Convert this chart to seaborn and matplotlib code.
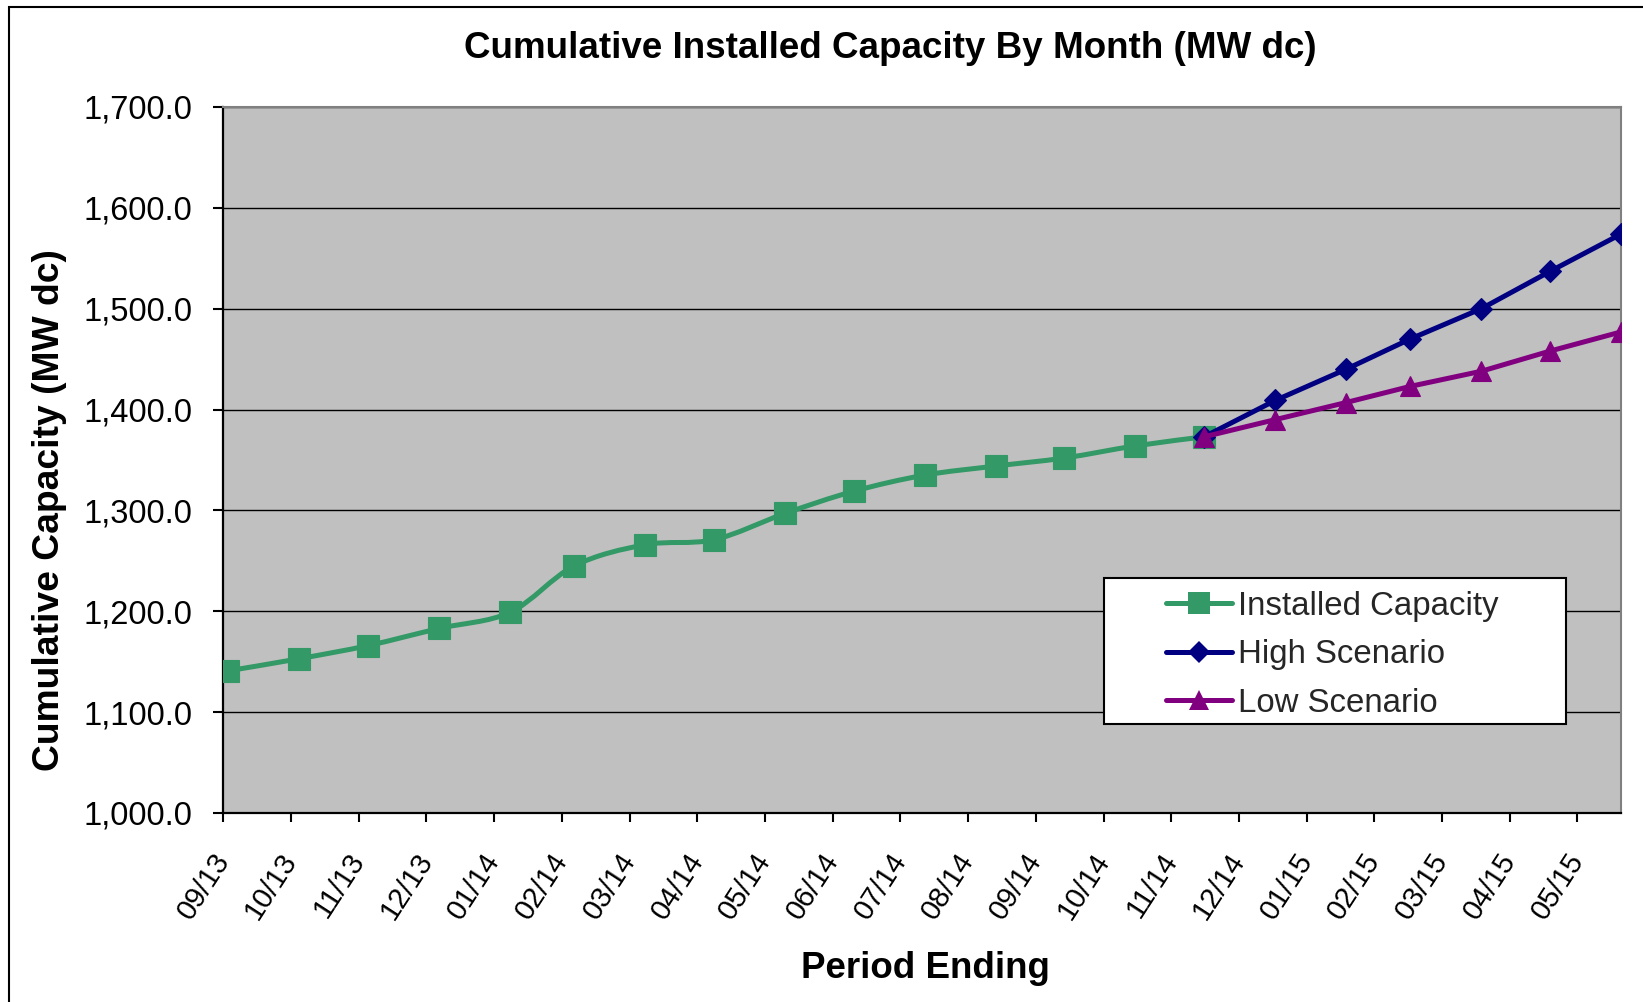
import pandas as pd
import numpy as np
import matplotlib
matplotlib.use('Agg')
from matplotlib import pyplot as plt
import matplotlib.dates as mdates
from matplotlib.path import Path
from matplotlib.patches import PathPatch, Rectangle
from matplotlib.lines import Line2D
from matplotlib.ticker import StrMethodFormatter
import seaborn as sns

sns.set_theme(style='white')
plt.rcParams['font.family'] = ['Liberation Sans', 'DejaVu Sans']

# data (MW dc, cumulative, month end)
installed_months = ['2013-09', '2013-10', '2013-11', '2013-12', '2014-01', '2014-02',
                    '2014-03', '2014-04', '2014-05', '2014-06', '2014-07', '2014-08',
                    '2014-09', '2014-10', '2014-11']
installed = [1141, 1153, 1166, 1183, 1199, 1245, 1266, 1271, 1297, 1319, 1335, 1344,
             1352, 1364, 1373]

scenario_months = ['2014-11', '2014-12', '2015-01', '2015-02', '2015-03', '2015-04', '2015-05']
high = [1373, 1409, 1440, 1470, 1500, 1537, 1574]
low = [1373, 1390, 1407, 1423, 1438, 1458, 1477]

tick_labels = ['09/13', '10/13', '11/13', '12/13', '01/14', '02/14', '03/14', '04/14',
               '05/14', '06/14', '07/14', '08/14', '09/14', '10/14', '11/14', '12/14',
               '01/15', '02/15', '03/15', '04/15', '05/15']

green = '#339966'
navy = '#000080'
purple = '#800080'

# month end dates
inst_dates = pd.to_datetime(installed_months) + pd.offsets.MonthEnd(0)
scen_dates = pd.to_datetime(scenario_months) + pd.offsets.MonthEnd(0)

W, H = 1643, 1002
fig = plt.figure(figsize=(W / 100, H / 100), dpi=100)
ax = fig.add_axes([223.3 / W, 1 - 813 / H, (1621 - 223.3) / W, (813 - 107) / H])
ax.set_facecolor('#C0C0C0')

# smoothed line for installed capacity (excel style bezier)
xs = mdates.date2num(inst_dates)
pts = np.column_stack([xs, installed]).astype(float)
n = len(pts)
verts = [tuple(pts[0])]
codes = [Path.MOVETO]
for i in range(n - 1):
    p0 = pts[max(i - 1, 0)]
    p1 = pts[i]
    p2 = pts[i + 1]
    p3 = pts[min(i + 2, n - 1)]
    c1 = p1 + (p2 - p0) / 6
    c2 = p2 - (p3 - p1) / 6
    verts += [tuple(c1), tuple(c2), tuple(p2)]
    codes += [Path.CURVE4] * 3
ax.add_patch(PathPatch(Path(verts, codes), fill=False, edgecolor=green, lw=3.6,
                       joinstyle='round', capstyle='round', zorder=3))

sns.lineplot(x=inst_dates, y=installed, ax=ax, marker='s', markersize=15.5, linestyle='',
             color=green, markeredgecolor=green, markeredgewidth=0.8, zorder=4)
sns.lineplot(x=scen_dates, y=high, ax=ax, marker='D', markersize=11, lw=3.6,
             color=navy, markeredgecolor=navy, markeredgewidth=0.8, zorder=5)
sns.lineplot(x=scen_dates, y=low, ax=ax, marker='^', markersize=14.5, lw=3.6,
             color=purple, markeredgecolor=purple, markeredgewidth=0.8, zorder=6)

# axes
x_left = pd.Timestamp('2013-09-27 19:00')
x_right = pd.Timestamp('2015-05-31')
ax.set_xlim(x_left, x_right)
ax.set_ylim(1000, 1700)
ax.set_yticks(np.arange(1000, 1701, 100))
ax.yaxis.set_major_formatter(StrMethodFormatter('{x:,.1f}'))

tick_dates = pd.date_range(x_left, '2015-05-12', periods=len(tick_labels))
ax.set_xticks(tick_dates)
ax.set_xticklabels(tick_labels)

ax.tick_params(axis='y', which='major', left=True, length=7, width=1.5, color='black',
               labelsize=23.5, pad=15, labelcolor='black')
ax.tick_params(axis='x', which='major', bottom=True, length=6.5, width=1.5, color='black',
               pad=24, labelcolor='black', labelsize=21, labelrotation=57)
plt.setp(ax.get_xticklabels(), ha='right', va='center', rotation_mode='anchor')

ax.grid(axis='y', color='black', lw=1.0)
ax.grid(axis='x', visible=False)
ax.set_axisbelow(True)

for side in ['left', 'bottom']:
    ax.spines[side].set_color('black')
    ax.spines[side].set_linewidth(1.6)
for side in ['top', 'right']:
    ax.spines[side].set_color('#808080')
    ax.spines[side].set_linewidth(1.5)

ax.set_xlabel('Period Ending', fontsize=26.5, fontweight='bold', color='black')
ax.xaxis.set_label_coords((925 - 223.3) / (1621 - 223.3), (813 - 968) / 706)
ax.xaxis.label.set_va('center')
ax.set_ylabel('Cumulative Capacity (MW dc)', fontsize=26.8, fontweight='bold', color='black')
ax.yaxis.set_label_coords((49 - 223.3) / (1621 - 223.3), (813 - 510) / 706)
ax.yaxis.label.set_va('center')

fig.text(890 / W, 1 - 48 / H, 'Cumulative Installed Capacity By Month (MW dc)',
         fontsize=26.5, fontweight='bold', ha='center', va='center', color='black')

# legend box
ax.add_patch(Rectangle((1104 / W, 1 - 724 / H), 462 / W, 146 / H, transform=fig.transFigure,
                       facecolor='white', edgecolor='black', lw=1.5, zorder=7, clip_on=False))
handles = [
    Line2D([], [], color=green, lw=3.6, marker='s', markersize=15.5, markeredgewidth=0),
    Line2D([], [], color=navy, lw=3.6, marker='D', markersize=11, markeredgewidth=0),
    Line2D([], [], color=purple, lw=3.6, marker='^', markersize=14.5, markeredgewidth=0),
]
leg = ax.legend(handles, ['Installed Capacity', 'High Scenario', 'Low Scenario'],
                loc='center left', bbox_to_anchor=(1166 / W, 1 - 655 / H),
                bbox_transform=fig.transFigure, frameon=False, fontsize=23.8,
                handlelength=2.0, handletextpad=0.18, labelspacing=0.53,
                borderpad=0, borderaxespad=0)
leg.set_zorder(8)

# outer chart border
fig.add_artist(Rectangle((9 / W, -0.5), 2.0, 0.5 + 1 - 7 / H, transform=fig.transFigure,
                         facecolor='none', edgecolor='black', lw=1.5, clip_on=False))

fig.savefig('out.png', dpi=100, facecolor='white')
